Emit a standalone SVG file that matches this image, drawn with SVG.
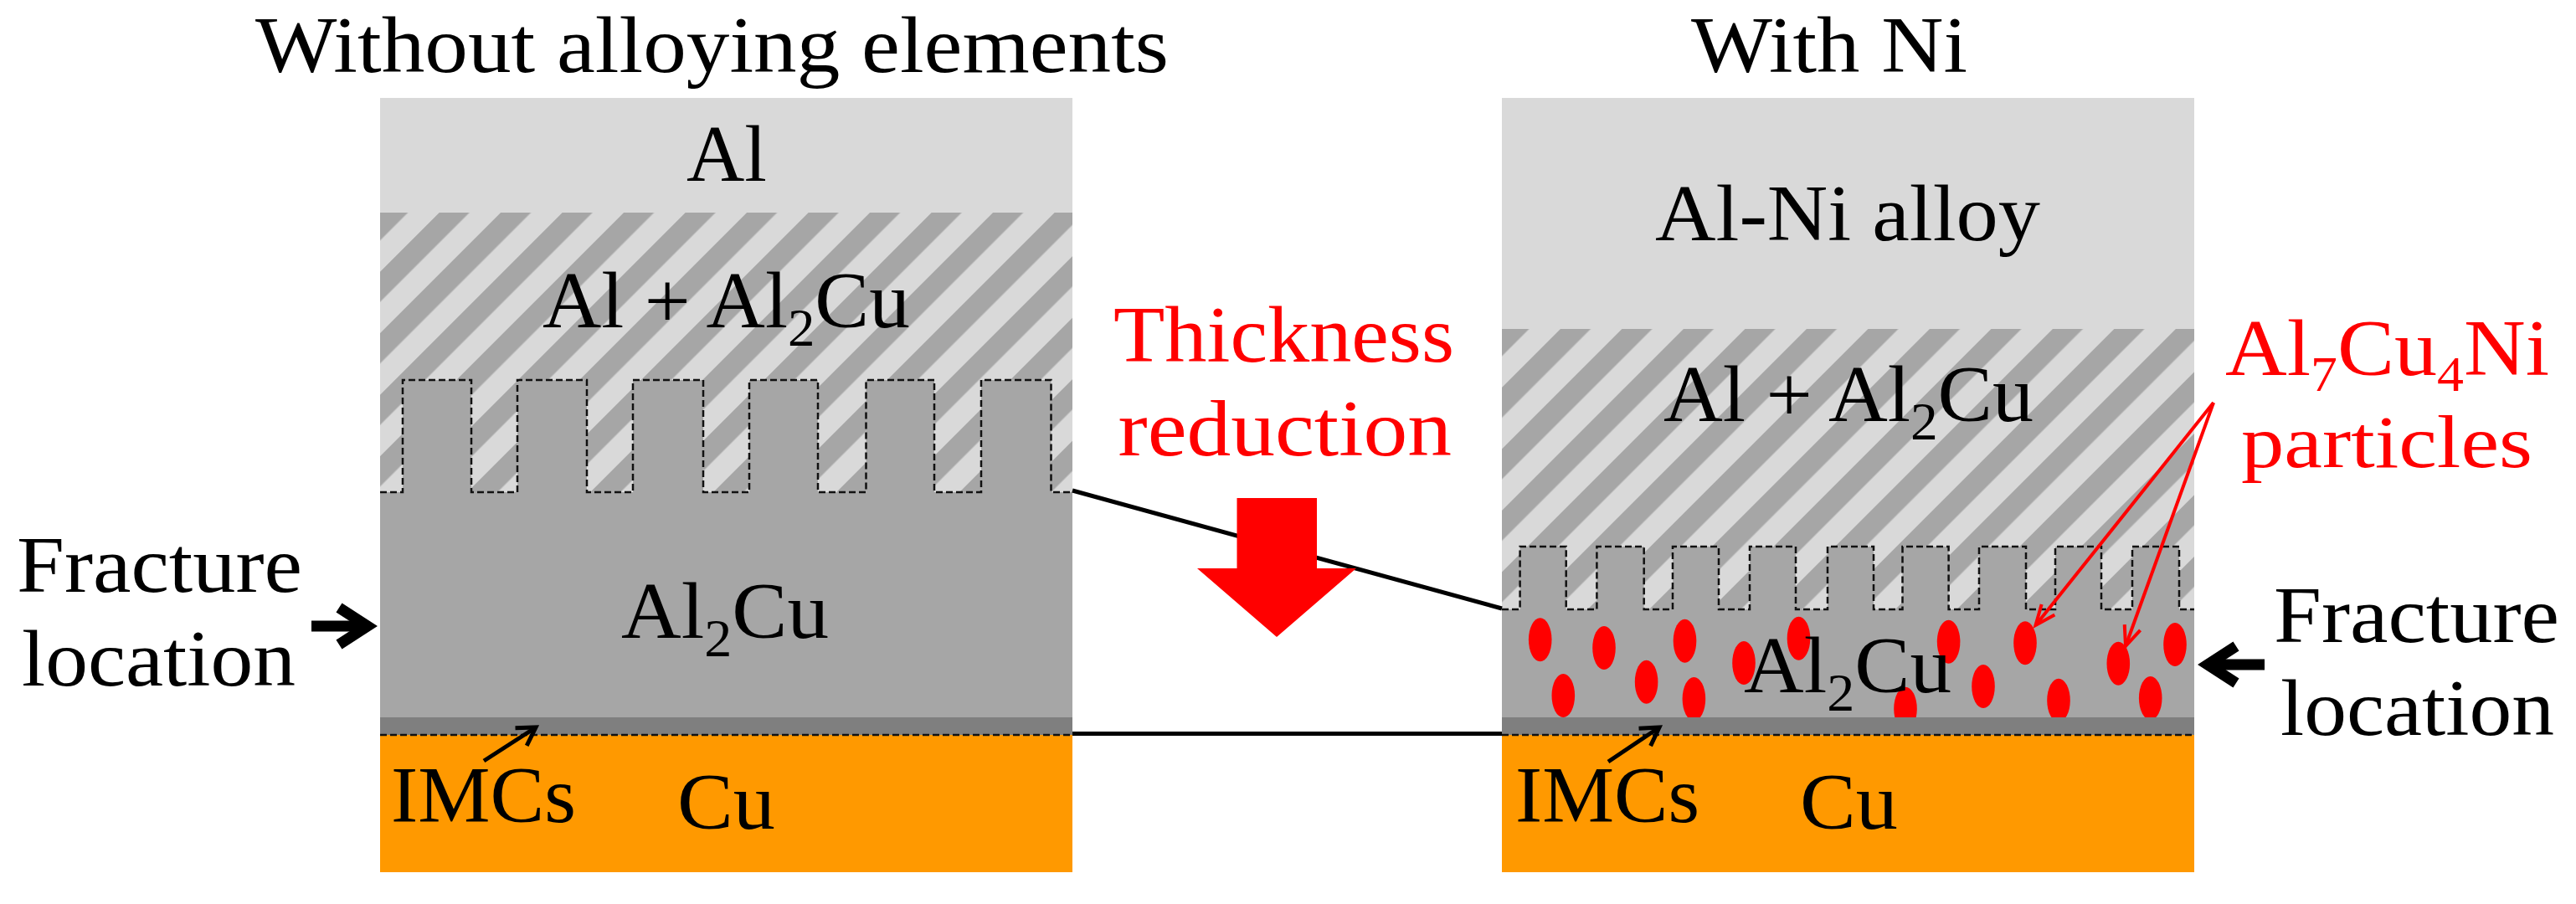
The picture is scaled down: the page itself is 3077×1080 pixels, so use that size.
<svg xmlns="http://www.w3.org/2000/svg" width="3077" height="1080" viewBox="0 0 3077 1080">
<style>
text{font-family:"Liberation Serif","Times New Roman",serif;font-size:96px;fill:#000}
.red{fill:#f00}
.sub{font-size:64px}
.sub2{font-size:60px}
.small{font-size:88px}
.al{fill:#d9d9d9}.al2{fill:#a6a6a6}.imc{fill:#7f7f7f}.cu{fill:#f90}
.dash{fill:none;stroke:#111;stroke-width:2.5;stroke-dasharray:8 4}
.line{fill:none;stroke:#000;stroke-width:5}
.leader{fill:none;stroke:#000;stroke-width:5}
.rl{fill:none;stroke:#f00;stroke-width:4}
.heavy{fill:none;stroke:#000;stroke-width:13}
.p{fill:#f00}
</style>
<defs>
<pattern id="hatchL" patternUnits="userSpaceOnUse" width="51.97" height="52" patternTransform="rotate(45) translate(30.9 0)"><rect width="51.97" height="52" fill="#d9d9d9"/><rect width="25.5" height="52" fill="#a6a6a6"/></pattern>
<pattern id="hatchR" patternUnits="userSpaceOnUse" width="51.97" height="52" patternTransform="rotate(45) translate(36.8 0)"><rect width="51.97" height="52" fill="#d9d9d9"/><rect width="25.5" height="52" fill="#a6a6a6"/></pattern>
<marker id="mB" markerUnits="userSpaceOnUse" orient="auto" overflow="visible" markerWidth="1" markerHeight="1"><path d="M-21,-12.6L0,0L-21,12.6" fill="none" stroke="#000" stroke-width="5"/></marker>
<marker id="mR" markerUnits="userSpaceOnUse" orient="auto" overflow="visible" markerWidth="1" markerHeight="1"><path d="M-24,-10L0,0L-24,10" fill="none" stroke="#f00" stroke-width="4"/></marker>
<marker id="mH" markerUnits="userSpaceOnUse" orient="auto" overflow="visible" markerWidth="1" markerHeight="1"><path d="M-34,-22L0,0L-34,22" fill="none" stroke="#000" stroke-width="13"/></marker>
</defs>
<rect width="3077" height="1080" fill="#fff"/>
<g id="stack-left">
<rect class="al" x="454" y="117" width="827" height="137"/>
<rect x="454" y="254" width="827" height="335" fill="url(#hatchL)"/>
<path class="al2" d="M454,588H481V454H563V588H618V454H701V588H756V454H840V588H895V454H977V588H1034.5V454H1116V588H1172V454H1255.5V588H1281V857H454Z"/>
<rect class="imc" x="454" y="857" width="827" height="21"/>
<rect class="cu" x="454" y="878" width="827" height="164"/>
<path class="dash" d="M454,588H481V454H563V588H618V454H701V588H756V454H840V588H895V454H977V588H1034.5V454H1116V588H1172V454H1255.5V588H1281"/>
<path class="dash" d="M454,878H1281"/>
</g>
<g id="stack-right">
<rect class="al" x="1794" y="117" width="827" height="276"/>
<rect x="1794" y="393" width="827" height="336" fill="url(#hatchR)"/>
<path class="al2" d="M1794,728H1815.6V653H1870.7V728H1907.4V653H1963.7V728H1998V653H2053V728H2090V653H2145V728H2183V653H2238V728H2272.5V653H2327.6V728H2364V653H2420V728H2455V653H2510V728H2547V653H2603V728H2621V857H1794Z"/>
<g id="particles" class="p">
<ellipse cx="1839.7" cy="764.3" rx="13.8" ry="26"/><ellipse cx="1916" cy="774" rx="13.8" ry="26"/><ellipse cx="2012.5" cy="765.7" rx="13.8" ry="26"/><ellipse cx="1867.3" cy="831" rx="13.8" ry="26"/><ellipse cx="1966.6" cy="814.7" rx="13.8" ry="26"/><ellipse cx="2023.4" cy="835" rx="13.8" ry="26"/><ellipse cx="2083" cy="792" rx="13.8" ry="26"/><ellipse cx="2148.5" cy="762.7" rx="13.8" ry="26"/><ellipse cx="2327.6" cy="766.7" rx="13.8" ry="26"/><ellipse cx="2369" cy="820" rx="13.8" ry="26"/><ellipse cx="2276" cy="846.7" rx="13.8" ry="26"/><ellipse cx="2419" cy="768.3" rx="13.8" ry="26"/><ellipse cx="2530.3" cy="792.7" rx="13.8" ry="26"/><ellipse cx="2598" cy="770" rx="13.8" ry="26"/><ellipse cx="2459" cy="836.7" rx="13.8" ry="26"/><ellipse cx="2568.7" cy="834" rx="13.8" ry="26"/>
</g>
<rect class="imc" x="1794" y="857" width="827" height="21"/>
<rect class="cu" x="1794" y="878" width="827" height="164"/>
<path class="dash" d="M1794,728H1815.6V653H1870.7V728H1907.4V653H1963.7V728H1998V653H2053V728H2090V653H2145V728H2183V653H2238V728H2272.5V653H2327.6V728H2364V653H2420V728H2455V653H2510V728H2547V653H2603V728H2621"/>
<path class="dash" d="M1794,878H2621"/>
</g>
<g id="connectors">
<path class="line" d="M1281,586L1794,727"/>
<path class="line" d="M1281,876.5H1794"/>
<path class="leader" d="M578,909L640,869" marker-end="url(#mB)"/>
<path class="leader" d="M1921,910L1982,869" marker-end="url(#mB)"/>
<path class="heavy" d="M372,748H439" marker-end="url(#mH)"/>
<path class="heavy" d="M2705,794H2637" marker-end="url(#mH)"/>
<path class="rl" d="M2644,481L2431.5,747" marker-end="url(#mR)"/>
<path class="rl" d="M2644,481L2539,772" marker-end="url(#mR)"/>
</g>
<g id="thickness-reduction">
<path class="p" d="M1477.5,595H1573V679H1620L1525,761L1430,679H1477.5Z"/>
<text class="red" x="1330" y="432" textLength="407" lengthAdjust="spacingAndGlyphs">Thickness</text>
<text class="red" x="1335.5" y="543.6" textLength="398.5" lengthAdjust="spacingAndGlyphs">reduction</text>
</g>
<g id="labels-left">
<text x="305" y="86" textLength="1091" lengthAdjust="spacingAndGlyphs">Without alloying elements</text>
<text x="820" y="216" textLength="96" lengthAdjust="spacingAndGlyphs">Al</text>
<text x="648" y="391" textLength="439" lengthAdjust="spacingAndGlyphs">Al + Al<tspan class="sub" dy="22">2</tspan><tspan dy="-22">Cu</tspan></text>
<text x="742" y="762" textLength="248" lengthAdjust="spacingAndGlyphs">Al<tspan class="sub" dy="22">2</tspan><tspan dy="-22">Cu</tspan></text>
<text x="467" y="982" textLength="221" lengthAdjust="spacingAndGlyphs">IMCs</text>
<text x="809" y="990" textLength="117" lengthAdjust="spacingAndGlyphs">Cu</text>
<text x="20" y="707" textLength="341" lengthAdjust="spacingAndGlyphs">Fracture</text>
<text x="26" y="819" textLength="327" lengthAdjust="spacingAndGlyphs">location</text>
</g>
<g id="labels-right">
<text x="2020" y="86" textLength="330" lengthAdjust="spacingAndGlyphs">With Ni</text>
<text x="1977" y="287" textLength="460" lengthAdjust="spacingAndGlyphs">Al-Ni alloy</text>
<text x="1987" y="503" textLength="442" lengthAdjust="spacingAndGlyphs">Al + Al<tspan class="sub" dy="22">2</tspan><tspan dy="-22">Cu</tspan></text>
<text x="2083" y="827" textLength="248" lengthAdjust="spacingAndGlyphs">Al<tspan class="sub" dy="22">2</tspan><tspan dy="-22">Cu</tspan></text>
<text x="1810" y="982" textLength="220" lengthAdjust="spacingAndGlyphs">IMCs</text>
<text x="2150" y="990" textLength="117" lengthAdjust="spacingAndGlyphs">Cu</text>
<text x="2716" y="767" textLength="341" lengthAdjust="spacingAndGlyphs">Fracture</text>
<text x="2724" y="878" textLength="327" lengthAdjust="spacingAndGlyphs">location</text>
<text class="red" x="2658" y="448" textLength="387" lengthAdjust="spacingAndGlyphs">Al<tspan class="sub2" dy="19">7</tspan><tspan dy="-19">Cu</tspan><tspan class="sub2" dy="19">4</tspan><tspan dy="-19">Ni</tspan></text>
<text class="red small" x="2677" y="558" textLength="348" lengthAdjust="spacingAndGlyphs">particles</text>
</g>
</svg>
